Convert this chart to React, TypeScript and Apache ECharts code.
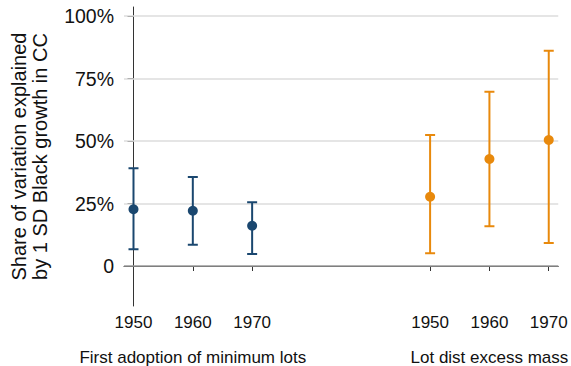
import React, { useEffect, useRef } from "react";
import * as echarts from "echarts";

// Positions along the x axis: two groups of decades, separated by a gap
const groupA = [0, 1, 2];
const groupB = [5, 6, 7];
const decades = ["1950", "1960", "1970"];
const groupNames = ["First adoption of minimum lots", "Lot dist excess mass"];

// Point estimates and 95% confidence bounds
const minLotsEst = [0.227, 0.221, 0.161];
const minLotsLow = [0.067, 0.085, 0.048];
const minLotsHigh = [0.391, 0.356, 0.255];

const excessEst = [0.277, 0.428, 0.504];
const excessLow = [0.051, 0.159, 0.092];
const excessHigh = [0.524, 0.697, 0.861];

const yTicks = [0, 0.25, 0.5, 0.75, 1];

const BLUE = "#1a476f";
const ORANGE = "#e8890c";
const FONT = "Liberation Sans, Arial, Helvetica, sans-serif";

function errorBars(xs: number[], lo: number[], hi: number[], color: string) {
  return {
    type: "custom",
    data: xs.map((x, i) => [x, lo[i], hi[i]]),
    encode: { x: 0, y: [1, 2] },
    z: 3,
    renderItem: (params: any, api: any) => {
      const x = api.value(0);
      const pLo = api.coord([x, api.value(1)]);
      const pHi = api.coord([x, api.value(2)]);
      const cap = 5;
      const style = { stroke: color, lineWidth: 2 };
      return {
        type: "group",
        children: [
          { type: "line", shape: { x1: pLo[0], y1: pLo[1], x2: pHi[0], y2: pHi[1] }, style },
          { type: "line", shape: { x1: pLo[0] - cap, y1: pLo[1], x2: pLo[0] + cap, y2: pLo[1] }, style },
          { type: "line", shape: { x1: pHi[0] - cap, y1: pHi[1], x2: pHi[0] + cap, y2: pHi[1] }, style },
        ],
      };
    },
  };
}

export default function App() {
  const ref = useRef<HTMLDivElement>(null);

  useEffect(() => {
    if (!ref.current) return;
    const chart = echarts.init(ref.current, null, { renderer: "svg" });
    const decadeLabel = (v: number) => {
      const i = groupA.indexOf(v);
      if (i >= 0) return decades[i];
      const j = groupB.indexOf(v);
      return j >= 0 ? decades[j] : "";
    };
    const groupCenters = [groupA[1], groupB[1]];

    chart.setOption({
      animation: false,
      backgroundColor: "#ffffff",
      textStyle: { fontFamily: FONT },
      grid: { left: 122, right: 12, top: 7, bottom: 60, containLabel: false },
      xAxis: [
        {
          type: "value",
          min: -0.16,
          max: 7.16,
          axisLine: { show: true, lineStyle: { color: "#333333", width: 1 } },
          axisTick: {
            show: true,
            length: 5,
            customValues: [...groupA, ...groupB],
            lineStyle: { color: "#333333" },
          },
          axisLabel: {
            customValues: [...groupA, ...groupB],
            formatter: (v: number) => decadeLabel(v),
            color: "#111111",
            fontSize: 17,
            fontFamily: FONT,
            margin: 8,
          },
          splitLine: { show: false },
        },
        {
          type: "value",
          position: "bottom",
          min: -0.16,
          max: 7.16,
          axisLine: { show: false },
          axisTick: { show: false },
          axisLabel: {
            customValues: groupCenters,
            formatter: (v: number) => groupNames[groupCenters.indexOf(v)] ?? "",
            color: "#111111",
            fontSize: 17,
            fontFamily: FONT,
            margin: 43,
          },
          splitLine: { show: false },
        },
      ],
      yAxis: {
        type: "value",
        min: -0.16,
        max: 1.036,
        name: "Share of variation explained\nby 1 SD Black growth in CC",
        nameLocation: "middle",
        nameGap: 74,
        nameTextStyle: { fontSize: 20, lineHeight: 21, color: "#111111", fontFamily: FONT },
        axisLine: { show: true, lineStyle: { color: "#333333", width: 1 } },
        axisTick: { show: true, length: 6, customValues: yTicks, lineStyle: { color: "#333333" } },
        axisLabel: {
          customValues: yTicks,
          formatter: (v: number) => (v === 0 ? "0" : `${Math.round(v * 100)}%`),
          color: "#111111",
          fontSize: 19.5,
          fontFamily: FONT,
          margin: 10,
        },
        splitLine: { show: false },
      },
      series: [
        {
          type: "line",
          data: [],
          z: 1,
          markLine: {
            silent: true,
            z: 1,
            symbol: "none",
            label: { show: false },
            data: yTicks.map((v) => ({
              yAxis: v,
              lineStyle: {
                color: v === 0 ? "#9a9a9a" : "#dcdcdc",
                width: 1.5,
                type: "solid",
              },
            })),
          },
        },
        errorBars(groupA, minLotsLow, minLotsHigh, BLUE),
        errorBars(groupB, excessLow, excessHigh, ORANGE),
        {
          type: "scatter",
          data: groupA.map((x, i) => [x, minLotsEst[i]]),
          symbolSize: 10,
          itemStyle: { color: BLUE, opacity: 1 },
          z: 6,
        },
        {
          type: "scatter",
          data: groupB.map((x, i) => [x, excessEst[i]]),
          symbolSize: 10,
          itemStyle: { color: ORANGE, opacity: 1 },
          z: 6,
        },
      ],
    });
    return () => chart.dispose();
  }, []);

  return <div ref={ref} style={{ width: 571, height: 366, position: "absolute", left: 0, top: 0 }} />;
}
